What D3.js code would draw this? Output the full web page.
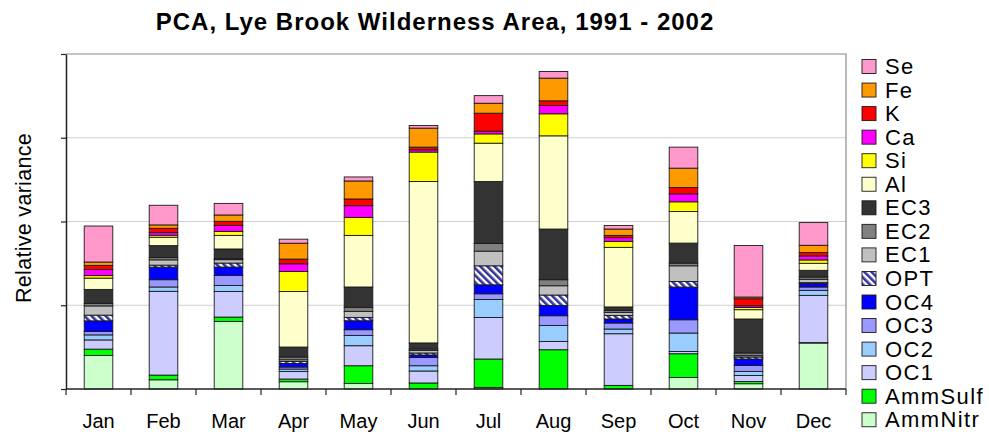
<!DOCTYPE html>
<html lang="en">
<head>
  <meta charset="UTF-8">
  <title>PCA, Lye Brook Wilderness Area</title>
  <script src="https://cdn.jsdelivr.net/npm/d3@7"></script>
  <style>
    body { margin: 0; background: #fff; }
    svg { font-family: "Liberation Sans", Arial, sans-serif; }
  </style>
</head>
<body>
  <svg width="989" height="434"></svg>
  <script>
    // data (bottom of stack first)
    var months = ['Jan', 'Feb', 'Mar', 'Apr', 'May', 'Jun', 'Jul', 'Aug', 'Sep', 'Oct', 'Nov', 'Dec'];
    var keys = ['AmmNitr', 'AmmSulf', 'OC1', 'OC2', 'OC3', 'OC4', 'OPT', 'EC1', 'EC2', 'EC3', 'Al', 'Si', 'Ca', 'K', 'Fe', 'Se'];

    var AmmNitr = [0.40, 0.11, 0.807, 0.087, 0.067, 0, 0.019, 0, 0, 0.138, 0.063, 0.549];
    var AmmSulf = [0.076, 0.056, 0.052, 0.032, 0.211, 0.072, 0.339, 0.469, 0.043, 0.283, 0.027, 0.005];
    var OC1 = [0.11, 1.0, 0.305, 0.09, 0.239, 0.143, 0.496, 0.099, 0.617, 0.027, 0.072, 0.564];
    var OC2 = [0.06, 0.052, 0.072, 0.029, 0.123, 0.063, 0.215, 0.191, 0.056, 0.22, 0.048, 0.06];
    var OC3 = [0.04, 0.087, 0.12, 0.024, 0.068, 0.099, 0.068, 0.116, 0.072, 0.159, 0.072, 0.04];
    var OC4 = [0.128, 0.15, 0.10, 0.043, 0.107, 0.029, 0.107, 0.123, 0.048, 0.39, 0.076, 0.04];
    var OPT = [0.068, 0.024, 0.048, 0.024, 0.04, 0.024, 0.227, 0.124, 0.043, 0.067, 0.024, 0.012];
    var EC1 = [0.11, 0.063, 0.04, 0.02, 0.072, 0.031, 0.175, 0.111, 0.036, 0.187, 0.016, 0.04];
    var EC2 = [0.03, 0.027, 0.012, 0.032, 0.048, 0.017, 0.091, 0.072, 0.024, 0.032, 0.032, 0.027];
    var EC3 = [0.167, 0.143, 0.116, 0.12, 0.243, 0.072, 0.74, 0.605, 0.041, 0.239, 0.406, 0.08];
    var Al = [0.135, 0.10, 0.162, 0.663, 0.616, 1.928, 0.458, 1.113, 0.711, 0.377, 0.111, 0.084];
    var Si = [0.03, 0.024, 0.048, 0.239, 0.215, 0.351, 0.111, 0.263, 0.072, 0.116, 0.027, 0.04];
    var Ca = [0.072, 0.031, 0.072, 0.092, 0.14, 0.027, 0.032, 0.099, 0.044, 0.095, 0.02, 0.048];
    var K = [0.05, 0.052, 0.048, 0.056, 0.08, 0.032, 0.215, 0.056, 0.027, 0.075, 0.084, 0.04];
    var Fe = [0.04, 0.04, 0.076, 0.19, 0.215, 0.227, 0.119, 0.271, 0.076, 0.232, 0.02, 0.087];
    var Se = [0.43, 0.235, 0.138, 0.048, 0.048, 0.031, 0.091, 0.079, 0.043, 0.251, 0.616, 0.271];

    var seriesValues = {
      AmmNitr: AmmNitr, AmmSulf: AmmSulf, OC1: OC1, OC2: OC2, OC3: OC3, OC4: OC4,
      OPT: OPT, EC1: EC1, EC2: EC2, EC3: EC3, Al: Al, Si: Si, Ca: Ca, K: K, Fe: Fe, Se: Se
    };

    var colors = {
      AmmNitr: '#ccffcc', AmmSulf: '#00ff00', OC1: '#ccccff', OC2: '#99ccff',
      OC3: '#9999ff', OC4: '#0000ff', OPT: 'url(#opt-hatch)', EC1: '#c0c0c0',
      EC2: '#808080', EC3: '#333333', Al: '#ffffcc', Si: '#ffff00',
      Ca: '#ff00ff', K: '#ff0000', Fe: '#ff9900', Se: '#ff99cc'
    };

    var svg = d3.select('svg');
    var plot = {left: 66, right: 846, top: 54, bottom: 389};

    // hatch for OPT
    var pattern = svg.append('defs').append('pattern')
      .attr('id', 'opt-hatch')
      .attr('patternUnits', 'userSpaceOnUse')
      .attr('width', 5)
      .attr('height', 5)
      .attr('patternTransform', 'rotate(-45)');
    pattern.append('rect').attr('width', 5).attr('height', 5).attr('fill', '#fff');
    pattern.append('rect').attr('width', 2.6).attr('height', 5).attr('fill', '#333399');

    var table = months.map(function(m, i) {
      var row = {month: m};
      keys.forEach(function(k) { row[k] = seriesValues[k][i]; });
      return row;
    });

    var xScale = d3.scaleBand()
      .domain(months)
      .range([plot.left, plot.right])
      .paddingInner(0.56)
      .paddingOuter(0.28);

    var yScale = d3.scaleLinear()
      .domain([0, 4])
      .range([plot.bottom, plot.top]);

    // grid + frame
    svg.append('g')
      .selectAll('line')
      .data([1, 2, 3])
      .enter()
      .append('line')
      .attr('x1', plot.left).attr('x2', plot.right)
      .attr('y1', function(d) { return yScale(d); })
      .attr('y2', function(d) { return yScale(d); })
      .attr('stroke', '#cfcfcf')
      .attr('stroke-width', 1);

    svg.append('path')
      .attr('d', 'M' + plot.left + ',' + plot.top + 'H' + plot.right + 'V' + plot.bottom)
      .attr('fill', 'none')
      .attr('stroke', '#8a8a8a')
      .attr('stroke-width', 1.2);

    var stack = d3.stack().keys(keys);
    var layers = stack(table);

    var layer = svg.append('g')
      .selectAll('.layer')
      .data(layers)
      .enter()
      .append('g')
      .attr('class', 'layer')
      .attr('fill', function(d) { return colors[d.key]; });

    layer.selectAll('rect')
      .data(function(d) { return d; })
      .enter()
      .append('rect')
      .attr('x', function(d) { return xScale(d.data.month); })
      .attr('y', function(d) { return yScale(d[1]); })
      .attr('width', xScale.bandwidth())
      .attr('height', function(d) { return yScale(d[0]) - yScale(d[1]); })
      .attr('stroke', '#1a1a1a')
      .attr('stroke-width', 0.9);

    // y axis: ticks, no labels
    svg.append('g')
      .attr('transform', 'translate(' + plot.left + ',0)')
      .call(d3.axisLeft(yScale).ticks(4).tickSize(5).tickSizeOuter(0).tickFormat(''))
      .call(function(g) {
        g.select('.domain').attr('stroke', '#222').attr('stroke-width', 1.5);
        g.selectAll('.tick line').attr('stroke', '#222').attr('stroke-width', 1.2);
      });

    // x axis: ticks between categories
    var xAxis = svg.append('g')
      .attr('transform', 'translate(0,' + plot.bottom + ')');
    xAxis.append('line')
      .attr('x1', plot.left).attr('x2', plot.right)
      .attr('stroke', '#222').attr('stroke-width', 1.5);
    xAxis.selectAll('.sep')
      .data(d3.range(months.length + 1))
      .enter()
      .append('line')
      .attr('class', 'sep')
      .attr('x1', function(i) { return plot.left + i * xScale.step(); })
      .attr('x2', function(i) { return plot.left + i * xScale.step(); })
      .attr('y1', 0).attr('y2', 6)
      .attr('stroke', '#222').attr('stroke-width', 1.2);
    xAxis.selectAll('.label')
      .data(months)
      .enter()
      .append('text')
      .attr('class', 'label')
      .attr('x', function(d) { return xScale(d) + xScale.bandwidth() / 2; })
      .attr('y', 39)
      .attr('text-anchor', 'middle')
      .attr('font-size', 20)
      .attr('fill', '#000')
      .text(function(d) { return d; });

    // title
    svg.append('text')
      .attr('x', 435)
      .attr('y', 30)
      .attr('text-anchor', 'middle')
      .attr('font-size', 24)
      .attr('font-weight', 'bold')
      .attr('letter-spacing', 1)
      .text('PCA, Lye Brook Wilderness Area, 1991 - 2002');

    // y label
    svg.append('text')
      .attr('transform', 'translate(31,218) rotate(-90)')
      .attr('text-anchor', 'middle')
      .attr('font-size', 21.5)
      .attr('letter-spacing', 0.3)
      .text('Relative variance');

    // legend (top of stack first)
    var legend = svg.append('g')
      .selectAll('.legend-item')
      .data(keys.slice().reverse())
      .enter()
      .append('g')
      .attr('class', 'legend-item')
      .attr('transform', function(d, i) { return 'translate(862,' + (66.5 + i * 23.55) + ')'; });

    legend.append('rect')
      .attr('x', 0).attr('y', -7)
      .attr('width', 14).attr('height', 14)
      .attr('fill', function(d) { return colors[d]; })
      .attr('stroke', '#1a1a1a')
      .attr('stroke-width', 0.9);

    legend.append('text')
      .attr('x', 23)
      .attr('y', 7.5)
      .attr('font-size', 22)
      .attr('letter-spacing', 1.4)
      .text(function(d) { return d; });
  </script>
</body>
</html>
